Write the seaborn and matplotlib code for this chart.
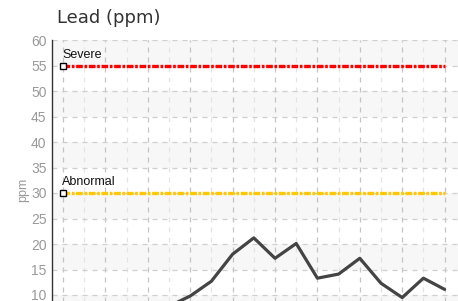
import numpy as np
import pandas as pd
import matplotlib
matplotlib.use('Agg')
import matplotlib.pyplot as plt
import seaborn as sns

# sample index and lead readings (first few sit below the visible window)
samples = list(range(19))
lead = [4.0, 5.0, 3.5, 6.0, 5.5, 7.8, 9.8, 12.7, 18.0, 21.2, 17.2, 20.1,
        13.3, 14.1, 17.2, 12.3, 9.5, 13.3, 11.1]

# limits
limit_names = ['Severe', 'Abnormal']
limit_values = [55, 30]
limit_colors = ['#ff0000', '#ffc800']

df = pd.DataFrame({'sample': samples, 'ppm': lead})

sns.set_style('white')
plt.rcParams['font.family'] = ['DejaVu Sans']
narrow = ['Liberation Sans Narrow', 'Liberation Sans', 'DejaVu Sans']

fig = plt.figure(figsize=(4.58, 3.01), dpi=100)
W, H = 458, 301
# axes: left spine at x=52px, y=60 at 40px, 5.1 px per ppm, x step 21.2 px
px_y = 5.1
px_x = 21.2
ymin, ymax = 0, 60
xmin = -(63 - 52) / px_x
xmax = 19.5
ax_h = (ymax - ymin) * px_y
ax_w = (xmax - xmin) * px_x
ax = fig.add_axes([52 / W, (H - 40 - ax_h) / H, ax_w / W, ax_h / H])

# alternating bands
for lo in range(5, 60, 10):
    ax.axhspan(lo, lo + 5, color='#f7f7f7', zorder=0, lw=0)

ax.set_xlim(xmin, xmax)
ax.set_ylim(ymin, ymax)
ax.set_yticks(range(0, 61, 5))
ax.set_xticks(samples[::2])
ax.set_xticks(samples[1::2], minor=True)
ax.grid(axis='y', which='major', color='#cfcfcf', ls=(0, (4, 4)), lw=0.9, zorder=1)
ax.grid(axis='x', which='major', color='#c4c4c4', ls=(0, (4, 4)), lw=0.9, zorder=1)
ax.grid(axis='x', which='minor', color='#e4e4e4', ls=(0, (4, 4)), lw=0.9, zorder=1)
ax.set_axisbelow(True)

sns.lineplot(data=df, x='sample', y='ppm', ax=ax, color='#444444', lw=2.3, zorder=3)

for name, val, col in zip(limit_names, limit_values, limit_colors):
    ax.plot([samples[0], samples[-1]], [val, val], color=col, lw=2.4,
            ls=(0, (2.0, 0.5, 0.8, 0.5)), zorder=4)
    ax.plot([samples[0]], [val], marker='s', ms=4, mfc='white', mec='black',
            mew=1.0, zorder=5)
    ax.text(samples[0] - 0.05, val + 0.9, name, fontsize=9, family=narrow,
            color='#111111', ha='left', va='bottom', zorder=6)

for s in ['top', 'right', 'bottom']:
    ax.spines[s].set_visible(False)
ax.spines['left'].set_color('#333333')
ax.spines['left'].set_linewidth(1.0)
ax.tick_params(axis='y', direction='inout', length=6, width=1, color='#333333',
               labelcolor='#999999', labelsize=10, pad=1)
ax.tick_params(axis='x', which='both', length=0, labelbottom=False)
for lab in ax.get_yticklabels():
    lab.set_family(narrow)

ax.set_xlabel('')
ax.set_ylabel('ppm', color='#999999', fontsize=9, family=narrow)
ax.yaxis.set_label_coords((29 - 52) / ax_w, (60 - (190 - 40) / px_y) / 60)

fig.text(57 / W, (H - 18) / H, 'Lead (ppm)', fontsize=13, color='#333333',
         ha='left', va='center')

fig.savefig('out.png', dpi=100)
